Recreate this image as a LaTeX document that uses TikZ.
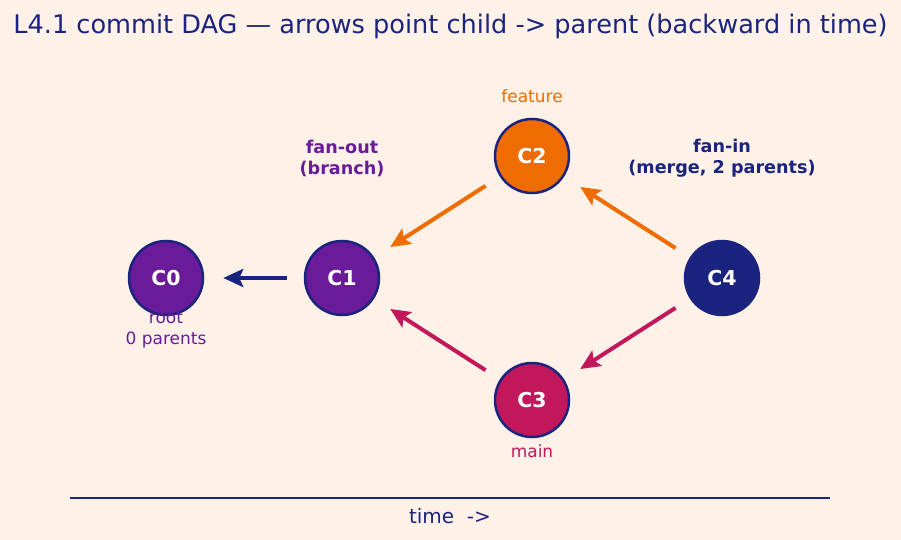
\documentclass[tikz,border=0pt]{standalone}
\usepackage{fontspec}
\setmainfont{DejaVu Sans}
\usetikzlibrary{arrows.meta}
\definecolor{bg}{HTML}{FEF2E8}
\definecolor{navy}{HTML}{1A237E}
\definecolor{purp}{HTML}{6A1B9A}
\definecolor{orng}{HTML}{EF6C00}
\definecolor{crim}{HTML}{C2185B}
\tikzset{
  commit/.style={circle, draw=navy, line width=2.5pt, minimum size=74pt, inner sep=0pt,
    text=white, font=\fontsize{20.5}{24}\selectfont\bfseries},
  link/.style={line width=4pt, -{Stealth[length=20pt,width=18pt,inset=4pt]}, shorten >=19pt, shorten <=17pt},
  lab/.style={font=\fontsize{17}{21}\selectfont, align=center, inner sep=0pt},
  blab/.style={font=\fontsize{17.6}{21}\selectfont\bfseries, align=center, inner sep=0pt}
}
\begin{document}
\begin{tikzpicture}[x=1pt,y=-1pt]
\fill[bg] (0,0) rectangle (901,540);
\useasboundingbox (0,0) rectangle (901,540);
\node[font=\fontsize{25.6}{30}\selectfont, text=navy] (title) at (450.5,26) {L4.1 commit DAG — arrows point child -> parent (backward in time)};
\node[commit, fill=purp] (C0) at (166,278) {C0};
\node[commit, fill=purp] (C1) at (342,278) {C1};
\node[commit, fill=orng] (C2) at (532,156) {C2};
\node[commit, fill=crim] (C3) at (532,400) {C3};
\node[commit, fill=navy] (C4) at (722,278) {C4};
\node[lab, text=orng] (lfeat) at (532,96) {feature};
\node[lab, text=crim] (lmain) at (532,451) {main};
\node[lab, text=purp] (lroot) at (166,330) {root\\0 parents};
\node[blab, text=purp] (lfo) at (342,158) {fan-out\\(branch)};
\node[blab, text=navy] (lfi) at (722,158) {fan-in\\(merge, 2 parents)};
\draw[link, navy] (C1) -- (C0);
\draw[link, orng] (C2) -- (C1);
\draw[link, crim] (C3) -- (C1);
\draw[link, orng] (C4) -- (C2);
\draw[link, crim] (C4) -- (C3);
\coordinate (t0) at (70,498);
\coordinate (t1) at (830,498);
\draw[navy, line width=1.2pt] (t0) -- (t1);
\node[font=\fontsize{20}{24}\selectfont, text=navy] (ltime) at (450,516) {time\ \ ->};
\end{tikzpicture}
\end{document}
